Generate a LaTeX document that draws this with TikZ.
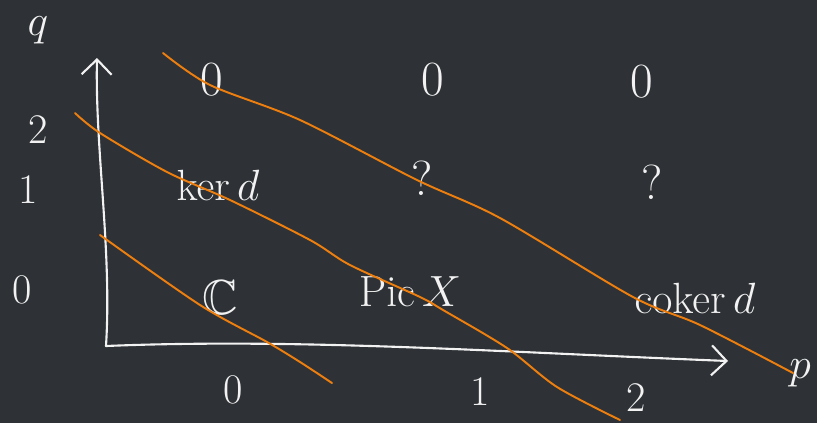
\documentclass[tikz,border=0pt]{standalone}
\usepackage{amsmath,amssymb}
\usepackage{xcolor}
\usepackage{tikz}
\usetikzlibrary{arrows.meta, positioning}

\definecolor{board}{HTML}{2E3236}
\definecolor{chalk}{HTML}{F2F2F2}
\definecolor{marker}{HTML}{EE7F0E}

\begin{document}
\begin{tikzpicture}[
    x=0.02cm, y=-0.02cm,
    entry/.style={text=chalk, font=\fontsize{28}{32}\selectfont, inner sep=1pt},
    tick/.style={text=chalk, font=\fontsize{24}{28}\selectfont, inner sep=1pt},
    axis/.style={draw=chalk, line width=1.2pt, line cap=round,
                 -{Straight Barb[length=3mm, width=6mm, line width=1.2pt]}},
    wave/.style={draw=marker, line width=1.1pt, line cap=round},
]

% ── Board ──
\fill[board] (0,0) rectangle (817,423);
\useasboundingbox (0,0) rectangle (817,423);

% ── Axes ──
\coordinate (origin) at (106,346);
\coordinate (qtip) at (97,58);
\coordinate (ptip) at (728,361);
\draw[axis] (origin) .. controls (112,250) and (95,150) .. (qtip);
\draw[axis] (origin) .. controls (300,338) and (500,352) .. (ptip);

% ── Axis labels ──
\node[tick] (qlab) at (38,30) {$q$};
\node[tick] (q2) at (38,130) {2};
\node[tick] (q1) at (28,190) {1};
\node[tick] (q0) at (22,290) {0};
\node[tick] (p0) at (233,390) {0};
\node[tick] (p1) at (480,392) {1};
\node[tick] (p2) at (636,398) {2};
\node[tick] (plab) at (800,373) {$p$};

% ── E_2 entries ──
\node[entry] (e02) at (212,80) {0};
\node[entry] (e12) at (433,80) {0};
\node[entry] (e22) at (642,82) {0};
\node[entry] (e01) at (218,185) {$\ker d$};
\node[entry] (e11) at (422,178) {?};
\node[entry] (e21) at (652,182) {?};
\node[entry] (e00) at (220,298) {$\mathbb{C}$};
\node[entry] (e10) at (410,292) {$\mathrm{Pic}\,X$};
\node[entry] (e20) at (695,298) {$\operatorname{coker} d$};

% ── Diagonals ──
\draw[wave] plot[smooth] coordinates {(163,53) (210,85) (300,120) (417,180)
  (500,218) (633,297) (700,325) (793,373)};
\draw[wave] plot[smooth] coordinates {(75,113) (100,133) (167,172) (230,200)
  (310,240) (350,265) (420,297) (443,310) (507,348) (557,387) (620,420)};
\draw[wave] plot[smooth] coordinates {(100,235) (200,305) (267,342)
  (300,362) (332,383)};

\end{tikzpicture}
\end{document}
